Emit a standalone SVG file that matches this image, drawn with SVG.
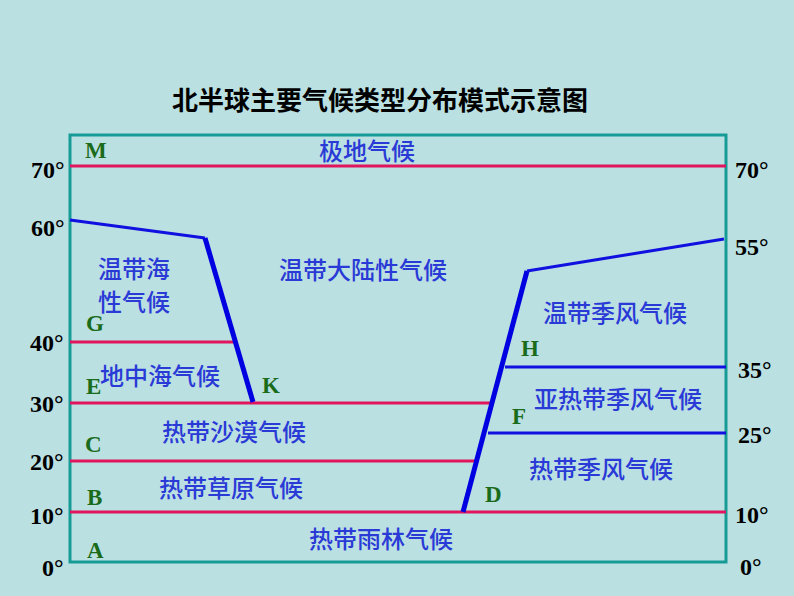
<svg xmlns="http://www.w3.org/2000/svg" width="794" height="596" viewBox="0 0 794 596">
<style>
.cn{font-family:"Noto Sans CJK SC",sans-serif;font-size:24px;fill:#2a3ad6;font-weight:500}
.t{font-family:"Noto Sans CJK SC",sans-serif;font-size:26px;fill:#000;font-weight:bold}
.deg{font-family:"Liberation Serif",serif;font-size:24px;font-weight:bold;fill:#000}
.lb{font-family:"Liberation Serif",serif;font-size:23px;font-weight:bold;fill:#1a6b1a}
.r{stroke:#e0155e;stroke-width:3;fill:none}
.b{stroke:#1010e0;stroke-width:3;fill:none}
.bt{stroke:#0000e0;stroke-width:5;fill:none}
</style>
<rect width="794" height="596" fill="#bbe0e2"/>
<text class="t" x="380" y="110" text-anchor="middle">北半球主要气候类型分布模式示意图</text>
<rect x="70" y="135" width="656" height="427" fill="none" stroke="#169b96" stroke-width="3"/>
<g id="connectors">
<line class="r" x1="70" y1="166" x2="726" y2="166"/>
<line class="r" x1="70" y1="342" x2="234" y2="342"/>
<line class="r" x1="70" y1="403" x2="494" y2="403"/>
<line class="r" x1="70" y1="461" x2="476" y2="461"/>
<line class="r" x1="70" y1="512" x2="726" y2="512"/>
<polyline class="b" points="70,220 205,238"/>
<line class="bt" x1="205" y1="238" x2="253" y2="402"/>
<line class="bt" x1="463" y1="512" x2="527" y2="271"/>
<line class="b" x1="527" y1="271" x2="724" y2="239"/>
<line class="b" x1="505" y1="367" x2="726" y2="367"/>
<line class="b" x1="488" y1="433" x2="726" y2="433"/>
</g>
<g id="degrees">
<text class="deg" x="31" y="178">70°</text>
<text class="deg" x="31" y="236">60°</text>
<text class="deg" x="30" y="351">40°</text>
<text class="deg" x="30" y="412">30°</text>
<text class="deg" x="30" y="470">20°</text>
<text class="deg" x="30" y="524">10°</text>
<text class="deg" x="42" y="576">0°</text>
<text class="deg" x="735" y="178">70°</text>
<text class="deg" x="735" y="255">55°</text>
<text class="deg" x="738" y="378">35°</text>
<text class="deg" x="738" y="443">25°</text>
<text class="deg" x="735" y="523">10°</text>
<text class="deg" x="740" y="575">0°</text>
</g>
<g id="labels">
<text class="lb" x="85" y="158">M</text>
<text class="lb" x="86" y="331">G</text>
<text class="lb" x="86" y="394">E</text>
<text class="lb" x="262" y="393">K</text>
<text class="lb" x="85" y="452">C</text>
<text class="lb" x="87" y="505">B</text>
<text class="lb" x="87" y="558">A</text>
<text class="lb" x="485" y="502">D</text>
<text class="lb" x="512" y="424">F</text>
<text class="lb" x="521" y="356">H</text>
</g>
<g id="regions">
<text class="cn" x="367" y="160" text-anchor="middle">极地气候</text>
<text class="cn" x="98" y="278">温带海</text>
<text class="cn" x="98" y="311">性气候</text>
<text class="cn" x="363" y="279" text-anchor="middle">温带大陆性气候</text>
<text class="cn" x="100" y="385">地中海气候</text>
<text class="cn" x="234" y="441" text-anchor="middle">热带沙漠气候</text>
<text class="cn" x="231" y="497" text-anchor="middle">热带草原气候</text>
<text class="cn" x="381" y="548" text-anchor="middle">热带雨林气候</text>
<text class="cn" x="615" y="322" text-anchor="middle">温带季风气候</text>
<text class="cn" x="618" y="408" text-anchor="middle">亚热带季风气候</text>
<text class="cn" x="601" y="478" text-anchor="middle">热带季风气候</text>
</g>
</svg>
